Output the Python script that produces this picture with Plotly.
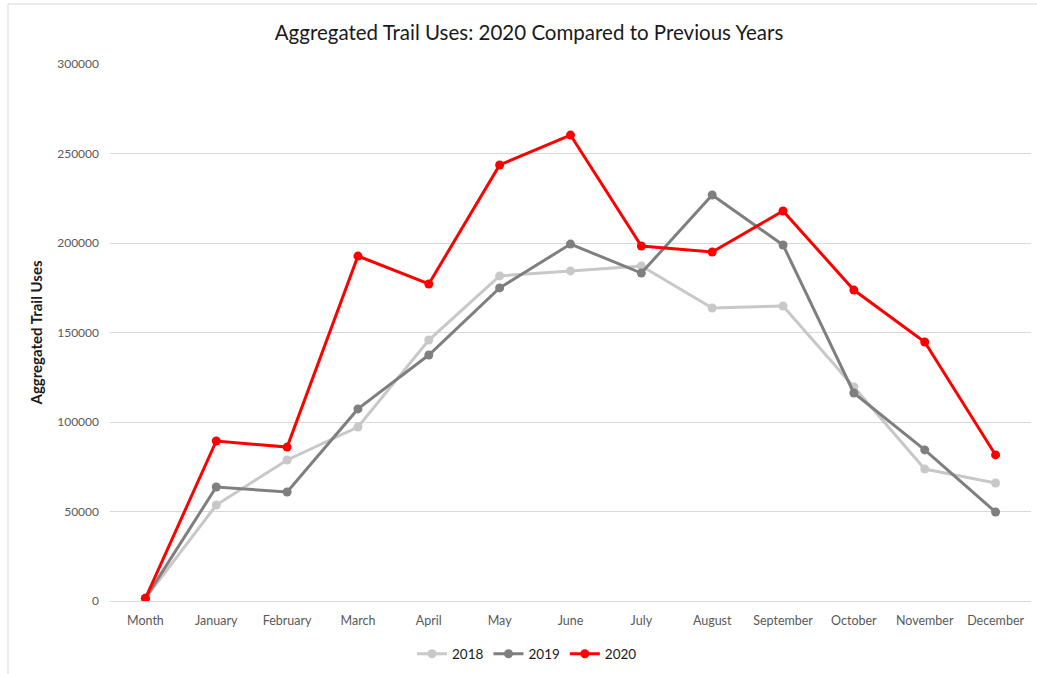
import plotly.graph_objects as go

months = ["Month", "January", "February", "March", "April", "May", "June",
          "July", "August", "September", "October", "November", "December"]
y2018 = [1500, 53600, 78800, 97200, 145800, 181600, 184400, 187200, 163700, 164800, 119600, 73700, 65900]
y2019 = [1500, 63700, 60900, 107300, 137400, 174900, 199400, 183200, 226800, 198900, 116200, 84400, 49700]
y2020 = [1500, 89400, 86000, 192700, 177100, 243600, 260300, 198300, 195000, 217900, 173700, 144700, 81600]
y_ticks = [0, 50000, 100000, 150000, 200000, 250000, 300000]

FONT = "Lato, Carlito, Calibri, sans-serif"

fig = go.Figure()
for name, vals, color in [("2018", y2018, "#C8C8C8"),
                          ("2019", y2019, "#7F7F7F"),
                          ("2020", y2020, "#FF0000")]:
    fig.add_trace(go.Scatter(
        x=months, y=vals, name=name, mode="lines+markers",
        line=dict(color=color, width=3),
        marker=dict(color=color, size=9),
    ))

fig.update_layout(
    width=1037, height=674,
    margin=dict(l=110, r=6, t=64, b=73, autoexpand=False),
    paper_bgcolor="white", plot_bgcolor="white",
    font=dict(family=FONT, color="#595959", size=12),
    title=dict(text="Aggregated Trail Uses: 2020 Compared to Previous Years",
               x=(273 + 785) / 2 / 1037, xanchor="center", y=1 - 33 / 674, yanchor="middle",
               font=dict(family=FONT, size=20.5, color="#1a1a1a")),
    showlegend=True,
    legend=dict(orientation="h", x=(527 - 110) / 921, xanchor="center",
                y=-(654 - 601) / 537, yanchor="middle",
                font=dict(family=FONT, size=13.5, color="#1a1a1a"),
                traceorder="normal", itemwidth=30),
    xaxis=dict(type="category", range=[-0.5, len(months) - 0.5],
               showgrid=False, showline=False, zeroline=False,
               automargin=False, ticks="", ticklabelstandoff=10,
               tickfont=dict(size=12.5, color="#595959")),
    yaxis=dict(range=[0, 300000], tickvals=y_ticks, ticktext=[str(v) for v in y_ticks],
               automargin=False,
               showgrid=True, gridcolor="#D9D9D9", gridwidth=1,
               zeroline=True, zerolinecolor="#D9D9D9", zerolinewidth=1,
               showline=False, ticks="", ticklabelstandoff=10,
               tickfont=dict(size=12, color="#595959"),
               title=dict(text="<b>Aggregated Trail Uses</b>", standoff=10,
                          font=dict(family=FONT, size=15, color="#1a1a1a"))),
)

# light frame of the original chart area (top and left edges)
fig.add_shape(type="line", xref="paper", yref="paper",
              x0=-(110 - 8) / 921, x1=1.01, y0=1 + (64 - 4) / 537, y1=1 + (64 - 4) / 537,
              line=dict(color="#D9D9D9", width=1))
fig.add_shape(type="line", xref="paper", yref="paper",
              x0=-(110 - 8) / 921, x1=-(110 - 8) / 921, y0=1 + (64 - 4) / 537, y1=-0.2,
              line=dict(color="#D9D9D9", width=1))

fig.write_html("out.html", config={"displayModeBar": False},
               post_script="document.body.style.margin='0';")
